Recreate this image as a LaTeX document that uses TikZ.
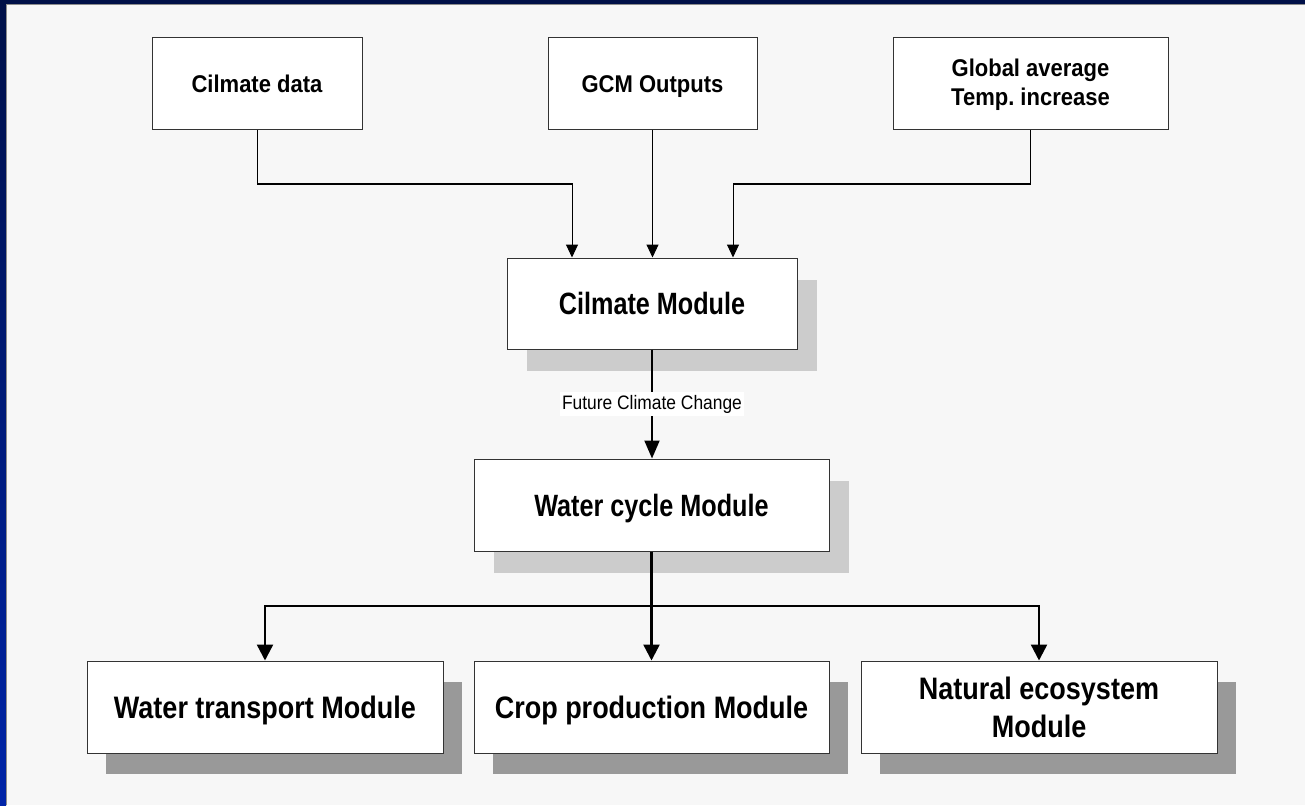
\documentclass[tikz,border=0pt]{standalone}
\usepackage{fontspec}
\setmainfont{Liberation Sans}
\frenchspacing
\usetikzlibrary{arrows.meta,shadows,calc}
\definecolor{navy}{HTML}{001048}
\definecolor{navyb}{HTML}{0024A8}
\definecolor{panel}{HTML}{F7F7F7}
\definecolor{shadeA}{HTML}{CCCCCC}
\definecolor{shadeB}{HTML}{999999}
\definecolor{edge}{HTML}{333333}
\newcommand\topt[1]{\scalebox{1}[1.1]{#1}}
\newcommand\midt[1]{\scalebox{0.9}[1.1]{#1}}
\newcommand\bott[1]{\scalebox{1}[1.15]{#1}}
\begin{document}
\begin{tikzpicture}[x=1pt,y=-1pt,
  box/.style={draw=edge,line width=1pt,fill=white,inner sep=0pt,minimum height=92pt,align=center,text depth=0pt},
  topbox/.style={box,font=\fontsize{22}{26.4}\selectfont\bfseries,text height=17.3pt},
  midbox/.style={box,font=\fontsize{28}{32}\selectfont\bfseries,text height=22pt,
     drop shadow={shadow xshift=20pt,shadow yshift=-22pt,shadow scale=1,fill=shadeA,opacity=1}},
  botbox/.style={box,font=\fontsize{27}{33}\selectfont\bfseries,text height=22.2pt,
     drop shadow={shadow xshift=19pt,shadow yshift=-21pt,shadow scale=1,fill=shadeB,opacity=1}},
  thinarr/.style={draw=black,line width=1pt,-{Triangle[length=13pt,width=12pt]}},
  midarr/.style={draw=black,line width=2pt,-{Triangle[length=18pt,width=15pt]}},
  botarr/.style={draw=black,line width=2.4pt,-{Triangle[length=16pt,width=16pt]}},
  lbl/.style={fill=white,inner xsep=2pt,inner ysep=3pt,font=\fontsize{17.4}{20}\selectfont}
]
\useasboundingbox (0,0) rectangle (1305,805);
\fill[navy] (0,0) rectangle (1305,805);
\shade[top color=navy,bottom color=navyb] (0,0) rectangle (6,805);
\fill[panel] (6,4) rectangle (1305,805);
\draw[black!45,line width=0.8pt] (6.4,805) -- (6.4,4.4) -- (1305,4.4);

% top inputs
\node[topbox,minimum width=210pt] (cd) at (257,84) {\topt{Cilmate data}};
\node[topbox,minimum width=209pt] (gcm) at (652.5,84) {\topt{GCM Outputs}};
\node[topbox,minimum width=275pt,text height=42.3pt] (glob) at (1030.5,84) {\topt{\begin{tabular}[b]{@{}c@{}}Global average\\Temp. increase\end{tabular}}};

% modules
\node[midbox,minimum width=290pt,minimum height=91pt] (cm) at (652,303.5) {\midt{Cilmate Module}};
\node[midbox,minimum width=355pt] (wc) at (651.5,505) {\midt{Water cycle Module}};

\node[botbox,minimum width=356pt] (wt) at (265,707) {\bott{Water transport Module}};
\node[botbox,minimum width=355pt] (cp) at (651.5,707) {\bott{Crop production Module}};
\node[botbox,minimum width=356pt,text height=60.2pt] (ne) at (1039,707) {\bott{\begin{tabular}[b]{@{}c@{}}Natural ecosystem\\Module\end{tabular}}};

% connectors top
\coordinate (j1) at (572,184);
\coordinate (j3) at (733,184);
\draw[thinarr] ($(cd.south)+(0.5,0)$) |- (j1) -- (j1 |- cm.north);
\draw[thinarr] (gcm.south) -- (gcm.south |- cm.north);
\draw[thinarr] (glob.south) |- (j3) -- (j3 |- cm.north);

% climate -> water cycle
\draw[midarr] (cm.south) -- node[lbl] (fcc) {\scalebox{1}[1.12]{Future Climate Change}} (cm.south |- wc.north);

% water cycle -> outputs
\coordinate (bus) at (652,606);
\draw[botarr] (wc.south) -- (bus -| wc.south) -- (cp.north);
\draw[botarr] (bus) -| (wt.north);
\draw[botarr] (bus) -| (ne.north);
\end{tikzpicture}
\end{document}
